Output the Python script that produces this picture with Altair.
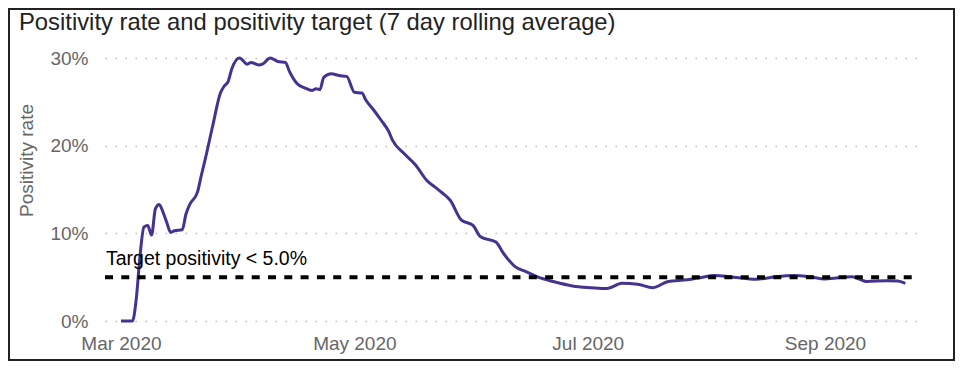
import altair as alt
import pandas as pd

# Positivity rate (7 day rolling average)
dates = [
    "2020-03-01", "2020-03-04", "2020-03-05", "2020-03-06", "2020-03-07", "2020-03-08",
    "2020-03-09", "2020-03-10", "2020-03-11", "2020-03-12", "2020-03-13", "2020-03-14",
    "2020-03-15", "2020-03-17", "2020-03-18", "2020-03-19", "2020-03-21", "2020-03-22",
    "2020-03-23", "2020-03-25", "2020-03-27", "2020-03-28", "2020-03-29", "2020-03-30",
    "2020-04-01", "2020-04-03", "2020-04-04", "2020-04-06", "2020-04-07", "2020-04-09",
    "2020-04-11", "2020-04-13", "2020-04-14", "2020-04-16", "2020-04-18", "2020-04-20",
    "2020-04-21", "2020-04-22", "2020-04-23", "2020-04-25", "2020-04-27", "2020-04-29",
    "2020-05-01", "2020-05-03", "2020-05-04", "2020-05-06", "2020-05-08", "2020-05-10",
    "2020-05-11", "2020-05-14", "2020-05-17", "2020-05-20", "2020-05-22", "2020-05-24",
    "2020-05-26", "2020-05-29", "2020-06-01", "2020-06-03", "2020-06-07", "2020-06-09",
    "2020-06-12", "2020-06-15", "2020-06-18", "2020-06-22", "2020-06-27", "2020-07-02",
    "2020-07-06", "2020-07-10", "2020-07-14", "2020-07-18", "2020-07-22", "2020-07-27",
    "2020-07-31", "2020-08-03", "2020-08-08", "2020-08-14", "2020-08-19", "2020-08-24",
    "2020-08-28", "2020-09-01", "2020-09-08", "2020-09-12", "2020-09-17", "2020-09-20",
    "2020-09-22",
]
positivity = [
    0.0, 0.0, 2.5, 7.5, 10.7, 10.9,
    9.8, 12.8, 13.3, 12.4, 11.2, 10.1,
    10.3, 10.4, 12.2, 13.3, 14.7, 16.6,
    18.4, 22.3, 26.0, 26.8, 27.3, 28.8,
    30.0, 29.3, 29.5, 29.2, 29.3, 30.0,
    29.6, 29.5, 28.5, 27.1, 26.6, 26.3,
    26.5, 26.4, 27.8, 28.2, 28.0, 27.9,
    26.1, 26.0, 25.2, 24.1, 22.9, 21.6,
    20.6, 19.1, 17.8, 16.0, 15.3, 14.6,
    13.8, 11.5, 10.9, 9.6, 9.0, 7.7,
    6.2, 5.6, 5.0, 4.5, 4.0, 3.8,
    3.7, 4.3, 4.2, 3.8, 4.5, 4.7,
    5.0, 5.2, 5.0, 4.75, 5.05, 5.2,
    5.05, 4.8, 5.05, 4.5, 4.6, 4.55,
    4.3,
]

target_value = 5.0
target_label = "Target positivity < 5.0%"
target_start = "2020-02-25T20:00:00"
target_end = "2020-09-23T18:00:00"

x_domain = ["2020-02-25T20:00:00", "2020-09-25T20:00:00"]
y_ticks = [0, 10, 20, 30]
x_ticks = [alt.DateTime(year=2020, month=m, date=1) for m in (3, 5, 7, 9)]

title_text = "Positivity rate and positivity target (7 day rolling average)"
y_title = "Positivity rate"

FONT = "Liberation Sans"

df = pd.DataFrame({"date": [d + "T00:00:00" for d in dates], "rate": positivity})
target_df = pd.DataFrame({"start": [target_start], "end": [target_end],
                          "value": [target_value], "label": [target_label]})
title_df = pd.DataFrame({"title": [title_text]})

x_scale = alt.Scale(domain=x_domain, nice=False)
y_scale = alt.Scale(domain=[0, 30], nice=False, zero=True)

x_enc = alt.X("date:T", scale=x_scale, title=None,
              axis=alt.Axis(values=x_ticks, format="%b %Y", grid=False, domain=False,
                            ticks=False, tickSize=0, labelPadding=13,
                            labelFontSize=19, labelFont=FONT, labelColor="#666666"))
y_enc = alt.Y("rate:Q", scale=y_scale, title=y_title,
              axis=alt.Axis(values=y_ticks, labelExpr="datum.value + '%'", domain=False,
                            ticks=False, tickSize=0, labelPadding=17,
                            grid=True, gridDash=[1.5, 8.5], gridColor="#bdbdbd", gridWidth=1.5,
                            labelFontSize=19, labelFont=FONT, labelColor="#666666",
                            titleFontSize=19, titleFont=FONT, titleColor="#666666",
                            titleFontWeight="normal", titleX=-73, titleY=102,
                            titleBaseline="alphabetic", titleAngle=270))

frame = alt.Chart(title_df).mark_rect(fill=None, stroke="#222222", strokeWidth=2).encode(
    x=alt.value(-96), x2=alt.value(849), y=alt.value(-49), y2=alt.value(302)
)

title = alt.Chart(title_df).mark_text(align="left", baseline="alphabetic", font=FONT,
                                      fontSize=23.8, color="#222222").encode(
    x=alt.value(-86), y=alt.value(-28), text="title:N"
)

line = alt.Chart(df).mark_line(color="#45338f", strokeWidth=3, interpolate="monotone").encode(
    x=x_enc, y=y_enc)

rule = alt.Chart(target_df).mark_rule(color="black", strokeWidth=4, strokeDash=[8, 8.3]).encode(
    x=alt.X("start:T", scale=x_scale), x2="end:T",
    y=alt.Y("value:Q", scale=y_scale)
)

label = alt.Chart(target_df).mark_text(align="left", baseline="alphabetic", dx=1, dy=-12,
                                       font=FONT, fontSize=19.5, color="black").encode(
    x=alt.X("start:T", scale=x_scale), y=alt.Y("value:Q", scale=y_scale), text="label:N"
)

chart = alt.layer(frame, title, line, rule, label).properties(
    width=815, height=263,
    autosize=alt.AutoSizeParams(type="none"),
    padding={"left": 97, "top": 50, "right": 36, "bottom": 40},
).configure(background="white").configure_view(strokeWidth=0, stroke="transparent")

chart.save("out.html", embed_options={"renderer": "svg", "actions": False})
